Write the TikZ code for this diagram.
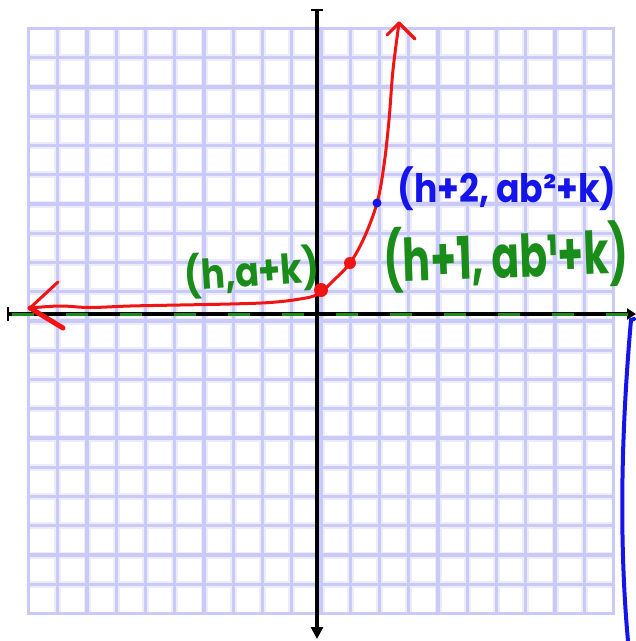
\documentclass[tikz,border=0pt]{standalone}
\usepackage{fontspec}
\usepackage{graphicx}
\newfontfamily\hand{Poppins}
\usetikzlibrary{arrows.meta}
\definecolor{gridc}{RGB}{202,202,248}
\definecolor{gridl}{RGB}{236,236,250}
\definecolor{myred}{RGB}{240,20,20}
\definecolor{mygreen}{RGB}{25,140,25}
\definecolor{myblue}{RGB}{20,20,235}
\tikzset{
  gridline/.style={gridc, line width=3.4pt},
  gridhalo/.style={gridl, line width=7pt},
  axis/.style={black, line width=3.6pt},
  curve/.style={myred, line width=3pt, line cap=round, line join=round},
  lab/.style={inner sep=0pt, font=\hand\bfseries}
}
\begin{document}
\begin{tikzpicture}[x=1pt,y=-1pt]
\useasboundingbox (0,0) rectangle (636,641);
\fill[white] (0,0) rectangle (636,641);
% grid
\foreach \i in {1,...,19} {
  \pgfmathsetmacro\p{28.5+29.25*\i}
  \draw[gridhalo] (\p,28.5) -- (\p,613.5);
  \draw[gridhalo] (28.5,\p) -- (613.5,\p);
}
\foreach \i in {0,...,20} {
  \pgfmathsetmacro\p{28.5+29.25*\i}
  \draw[gridline] (\p,26.8) -- (\p,615.2);
  \draw[gridline] (26.8,\p) -- (615.2,\p);
}
% axes
\coordinate (xl) at (8,314);
\coordinate (xr) at (636,314);
\coordinate (yt) at (317,10);
\coordinate (yb) at (317,639);
\draw[axis, -{Triangle[length=9pt,width=11pt]}] (xl) -- (xr);
\draw[axis, -{Triangle[length=12pt,width=12pt]}] (yt) -- (yb);
\draw[black, line width=2pt] (8,307) -- (8,321);
\draw[black, line width=2pt] (311,10) -- (323,10);
% green dashed line on x-axis
\coordinate (gl) at (12,314.5);
\coordinate (gr) at (636,314.5);
\draw[mygreen, line width=2.4pt, dash pattern=on 22pt off 32pt] (gl) -- (gr);
% blue line at right
\draw[myblue, line width=4pt, line cap=round] (634,319) -- (631,320) .. controls (624,400) and (617,520) .. (628,641);
% red curve
\coordinate (la) at (30,308);
\coordinate (ta) at (399,23);
\draw[curve] plot[smooth, tension=0.6] coordinates {(la) (60,306) (90,307.5) (130,306) (180,305) (230,304) (270,302.5) (300,299) (318,294) (335,279) (350,263) (364,238) (377,203) (384,165) (389,120) (393,70) (ta)};
\draw[curve] (la) -- (58,282);
\draw[myred, line width=5pt, line cap=round] (la) -- (63,328);
\draw[curve] (ta) -- (387,35);
\draw[curve, line width=3.5pt] (ta) -- (415,39);
% points
\fill[myred] (321,290) circle (7pt);
\fill[myred] (350,263) circle (6pt);
\fill[myblue] (377,203) circle (4.5pt);
% labels
\node[lab, text=mygreen, rotate=4] (l0) at (252,272) {\resizebox*{135pt}{46pt}{(h,a+k)}};
\node[lab, text=mygreen, rotate=2] (l1) at (506,257) {\resizebox*{245pt}{66pt}{(h+1, ab¹+k)}};
\node[lab, text=myblue] (l2) at (507,189) {\resizebox*{219pt}{44pt}{(h+2, ab²+k)}};
\end{tikzpicture}
\end{document}
